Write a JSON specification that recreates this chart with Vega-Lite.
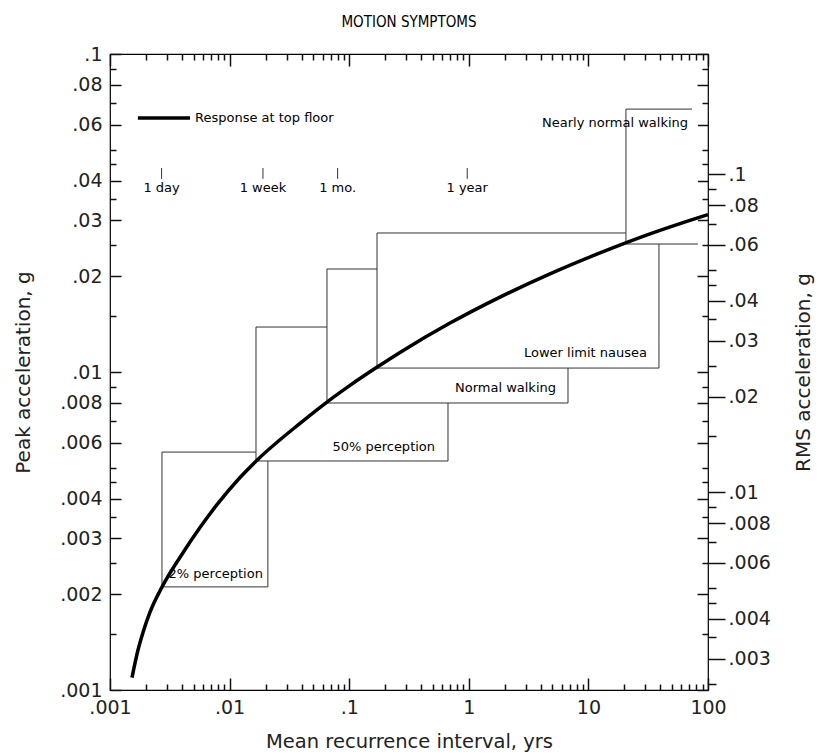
{
  "$schema": "https://vega.github.io/schema/vega-lite/v6.json",
  "width": 598,
  "height": 636,
  "autosize": {"type": "none"},
  "padding": {"left": 110, "top": 54, "right": 113, "bottom": 64},
  "background": "white",
  "title": {"text": "MOTION SYMPTOMS", "font": "DejaVu Sans Condensed", "fontSize": 15, "fontWeight": "normal", "color": "black", "anchor": "middle", "offset": 15},
  "config": {
    "view": {"stroke": "black", "strokeWidth": 1.2},
    "axis": {"labelFont": "DejaVu Sans", "titleFont": "DejaVu Sans", "labelFontSize": 19, "titleFontSize": 20, "titleFontWeight": "normal", "labelColor": "#222", "titleColor": "#222", "ticks": true, "tickColor": "#111111", "tickOpacity": 1, "tickWidth": 1.5, "zindex": 2, "domain": false, "grid": false, "labelOverlap": false, "labelFlush": false, "labelBound": false},
    "text": {"font": "DejaVu Sans", "fontSize": 13, "color": "black"}
  },
  "datasets": {
    "boxes": [
      {"name": "2% perception", "x": 0.00272, "x2": 0.0209, "y": 0.00211, "y2": 0.0056},
      {"name": "50% perception", "x": 0.01662, "x2": 0.67, "y": 0.00525, "y2": 0.01385},
      {"name": "Normal walking", "x": 0.0652, "x2": 6.75, "y": 0.00799, "y2": 0.02108},
      {"name": "Lower limit nausea", "x": 0.1708, "x2": 38.9, "y": 0.01029, "y2": 0.02736}
    ],
    "box5": [{"x": 20.6, "x2": 82.4, "y": 0.02526, "y2": 0.0671}],
    "box5edges": [
      {"x": 20.6, "x2": 20.6, "y": 0.02526, "y2": 0.0671},
      {"x": 20.6, "x2": 73.5, "y": 0.0671, "y2": 0.0671},
      {"x": 20.6, "x2": 82.4, "y": 0.02526, "y2": 0.02526}
    ],
    "curve": [
      {"x": 0.001527, "y": 0.001094},
      {"x": 0.001714, "y": 0.001336},
      {"x": 0.001887, "y": 0.001516},
      {"x": 0.00216, "y": 0.001757},
      {"x": 0.002721, "y": 0.002108},
      {"x": 0.004076, "y": 0.002702},
      {"x": 0.005655, "y": 0.003243},
      {"x": 0.007843, "y": 0.003826},
      {"x": 0.01222, "y": 0.004658},
      {"x": 0.01695, "y": 0.00528},
      {"x": 0.03879, "y": 0.006895},
      {"x": 0.06646, "y": 0.008089},
      {"x": 0.1016, "y": 0.009077},
      {"x": 0.1741, "y": 0.0104},
      {"x": 0.2659, "y": 0.01152},
      {"x": 0.6965, "y": 0.01425},
      {"x": 1.823, "y": 0.0172},
      {"x": 4.774, "y": 0.02035},
      {"x": 12.5, "y": 0.02368},
      {"x": 21.02, "y": 0.02556},
      {"x": 32.74, "y": 0.02718},
      {"x": 85.75, "y": 0.03069},
      {"x": 100, "y": 0.03126}
    ],
    "legendline": [{"x": 0.00171, "x2": 0.00467, "y": 0.0629}],
    "legendtext": [{"label": "Response at top floor", "x": 0.00494, "y": 0.0629}],
    "periods": [
      {"label": "1 day", "x": 0.0027, "y": 0.0405, "y2": 0.0438, "ly": 0.0379},
      {"label": "1 week", "x": 0.019, "y": 0.0405, "y2": 0.0438, "ly": 0.0379},
      {"label": "1 mo.", "x": 0.08, "y": 0.0405, "y2": 0.0438, "ly": 0.0379},
      {"label": "1 year", "x": 0.97, "y": 0.0405, "y2": 0.0438, "ly": 0.0379}
    ],
    "boxlabels": [
      {"label": "2% perception", "x": 0.019, "y": 0.00232},
      {"label": "50% perception", "x": 0.522, "y": 0.00581},
      {"label": "Normal walking", "x": 5.36, "y": 0.0089},
      {"label": "Lower limit nausea", "x": 30.9, "y": 0.01147},
      {"label": "Nearly normal walking", "x": 68.1, "y": 0.0607}
    ],
    "rms": [{"r": 0.01}]
  },
  "layer": [
    {
      "data": {"name": "boxes"},
      "mark": {"type": "rect", "fill": "white", "stroke": "#333", "strokeWidth": 1},
      "encoding": {
        "x": {"field": "x", "type": "quantitative", "scale": {"type": "log", "domain": [0.001, 100], "nice": false},
          "axis": {"orient": "bottom", "title": "Mean recurrence interval, yrs", "titleFontSize": 19.5, "titlePadding": 15,
            "values": [0.001, 0.01, 0.1, 1, 10, 100], "ticks": true, "tickSize": -12, "labelPadding": 20,
            "labelExpr": "replace(format(datum.value, '~g'), '0.', '.')"}},
        "x2": {"field": "x2"},
        "y": {"field": "y", "type": "quantitative", "scale": {"type": "log", "domain": [0.001, 0.1], "nice": false},
          "axis": {"orient": "left", "title": "Peak acceleration, g", "titlePadding": 26,
            "values": [0.001,0.002,0.003,0.004,0.006,0.008,0.01,0.02,0.03,0.04,0.06,0.08,0.1], "ticks": true, "tickSize": -11, "labelPadding": 19,
            "labelExpr": "replace(format(datum.value, '~g'), '0.', '.')"}},
        "y2": {"field": "y2"}
      }
    },
    {
      "data": {"name": "box5"},
      "mark": {"type": "rect", "fill": "white", "strokeWidth": 0},
      "encoding": {
        "x": {"field": "x", "type": "quantitative", "scale": {"type": "log", "domain": [0.001, 100], "nice": false},
          "axis": {"orient": "bottom", "title": null, "labels": false, "ticks": true, "tickSize": -6,
            "values": [0.002,0.003,0.004,0.005,0.006,0.007,0.008,0.009,0.02,0.03,0.04,0.05,0.06,0.07,0.08,0.09,0.2,0.3,0.4,0.5,0.6,0.7,0.8,0.9,2,3,4,5,6,7,8,9,20,30,40,50,60,70,80,90]}},
        "x2": {"field": "x2"},
        "y": {"field": "y", "type": "quantitative", "scale": {"type": "log", "domain": [0.001, 0.1], "nice": false},
          "axis": {"orient": "left", "title": null, "labels": false, "ticks": true, "tickSize": -6,
            "values": [0.0015,0.0025,0.0035,0.0045,0.005,0.007,0.009,0.015,0.025,0.035,0.045,0.05,0.07,0.09]}},
        "y2": {"field": "y2"}
      }
    },
    {
      "data": {"name": "box5edges"},
      "mark": {"type": "rule", "stroke": "#333", "strokeWidth": 1},
      "encoding": {
        "x": {"field": "x", "type": "quantitative", "scale": {"type": "log", "domain": [0.001, 100], "nice": false},
          "axis": {"orient": "top", "title": null, "labels": false, "ticks": true, "tickSize": -12, "values": [0.001, 0.01, 0.1, 1, 10, 100]}},
        "x2": {"field": "x2"},
        "y": {"field": "y", "type": "quantitative", "scale": {"type": "log", "domain": [0.001, 0.1], "nice": false},
          "axis": {"orient": "right", "title": null, "labels": false, "ticks": true, "tickSize": -11,
            "values": [0.001,0.002,0.003,0.004,0.006,0.008,0.01,0.02,0.03,0.04,0.06,0.08,0.1]}},
        "y2": {"field": "y2"}
      }
    },
    {
      "data": {"name": "curve"},
      "mark": {"type": "line", "color": "black", "strokeWidth": 3.5, "interpolate": "monotone"},
      "encoding": {
        "x": {"field": "x", "type": "quantitative", "scale": {"type": "log", "domain": [0.001, 100], "nice": false},
          "axis": {"orient": "top", "title": null, "labels": false, "ticks": true, "tickSize": -6,
            "values": [0.002,0.003,0.004,0.005,0.006,0.007,0.008,0.009,0.02,0.03,0.04,0.05,0.06,0.07,0.08,0.09,0.2,0.3,0.4,0.5,0.6,0.7,0.8,0.9,2,3,4,5,6,7,8,9,20,30,40,50,60,70,80,90]}},
        "y": {"field": "y", "type": "quantitative", "scale": {"type": "log", "domain": [0.001, 0.1], "nice": false},
          "axis": {"orient": "right", "title": null, "labels": false, "ticks": true, "tickSize": -6,
            "values": [0.0015,0.0025,0.0035,0.0045,0.005,0.007,0.009,0.015,0.025,0.035,0.045,0.05,0.07,0.09]}}
      }
    },
    {
      "data": {"name": "legendline"},
      "mark": {"type": "rule", "color": "black", "strokeWidth": 3.5},
      "encoding": {
        "x": {"field": "x", "type": "quantitative", "scale": {"type": "log", "domain": [0.001, 100], "nice": false}, "axis": null},
        "x2": {"field": "x2"},
        "y": {"field": "y", "type": "quantitative", "scale": {"type": "log", "domain": [0.001, 0.1], "nice": false}, "axis": null}
      }
    },
    {
      "data": {"name": "legendtext"},
      "mark": {"type": "text", "align": "left", "baseline": "middle", "dx": 2},
      "encoding": {
        "x": {"field": "x", "type": "quantitative", "scale": {"type": "log", "domain": [0.001, 100], "nice": false}, "axis": null},
        "y": {"field": "y", "type": "quantitative", "scale": {"type": "log", "domain": [0.001, 0.1], "nice": false}, "axis": null},
        "text": {"field": "label"}
      }
    },
    {
      "data": {"name": "periods"},
      "mark": {"type": "rule", "color": "#333", "strokeWidth": 1},
      "encoding": {
        "x": {"field": "x", "type": "quantitative", "scale": {"type": "log", "domain": [0.001, 100], "nice": false}, "axis": null},
        "y": {"field": "y", "type": "quantitative", "scale": {"type": "log", "domain": [0.001, 0.1], "nice": false}, "axis": null},
        "y2": {"field": "y2"}
      }
    },
    {
      "data": {"name": "periods"},
      "mark": {"type": "text", "align": "center", "baseline": "middle"},
      "encoding": {
        "x": {"field": "x", "type": "quantitative", "scale": {"type": "log", "domain": [0.001, 100], "nice": false}, "axis": null},
        "y": {"field": "ly", "type": "quantitative", "scale": {"type": "log", "domain": [0.001, 0.1], "nice": false}, "axis": null},
        "text": {"field": "label"}
      }
    },
    {
      "data": {"name": "boxlabels"},
      "mark": {"type": "text", "align": "right", "baseline": "middle"},
      "encoding": {
        "x": {"field": "x", "type": "quantitative", "scale": {"type": "log", "domain": [0.001, 100], "nice": false}, "axis": null},
        "y": {"field": "y", "type": "quantitative", "scale": {"type": "log", "domain": [0.001, 0.1], "nice": false}, "axis": null},
        "text": {"field": "label"}
      }
    },
    {
      "data": {"name": "rms"},
      "mark": {"type": "point", "opacity": 0},
      "encoding": {
        "y": {"field": "r", "type": "quantitative", "scale": {"type": "log", "domain": [0.00239, 0.239], "nice": false},
          "axis": {"orient": "right", "title": "RMS acceleration, g", "titleAngle": 270, "titlePadding": 43,
            "values": [0.003,0.004,0.006,0.008,0.01,0.02,0.03,0.04,0.06,0.08,0.1], "ticks": true, "tickSize": 17, "labelPadding": 3,
            "labelExpr": "replace(format(datum.value, '~g'), '0.', '.')"}}
      }
    },
    {
      "data": {"name": "rms"},
      "mark": {"type": "point", "opacity": 0},
      "encoding": {
        "y": {"field": "r", "type": "quantitative", "scale": {"type": "log", "domain": [0.00239, 0.239], "nice": false},
          "axis": {"orient": "right", "title": null, "labels": false, "ticks": true, "tickSize": 8,
            "values": [0.0025,0.0035,0.0045,0.005,0.007,0.009,0.015,0.025,0.035,0.045,0.05,0.07,0.09]}}
      }
    }
  ],
  "resolve": {"scale": {"y": "independent"}, "axis": {"x": "independent", "y": "independent"}}
}
